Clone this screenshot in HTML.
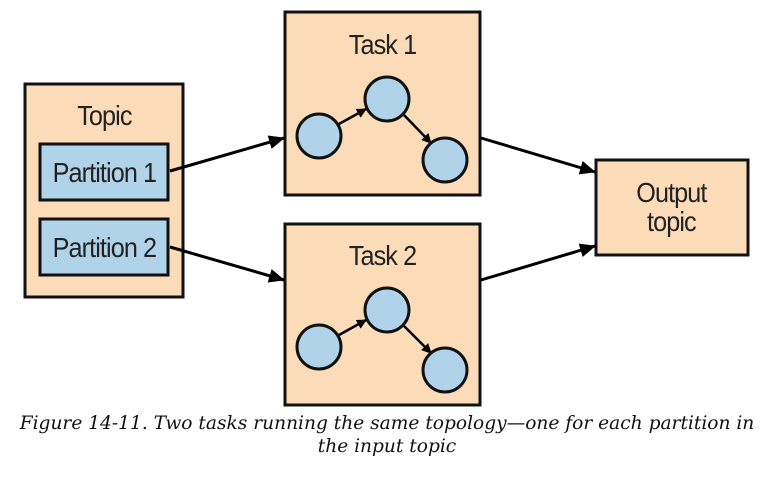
<!DOCTYPE html>
<html><head><style>
body{margin:0;background:#fff;width:767px;height:477px;overflow:hidden}
.cap{position:absolute;left:0;width:774px;text-align:center;font-family:"DejaVu Serif","Liberation Serif",serif;font-style:italic;font-size:18.6px;line-height:23px;top:412px;color:#111;white-space:nowrap}
</style></head><body>
<svg width="767" height="477" style="position:absolute;left:0;top:0" font-family="Liberation Sans, sans-serif">
<defs><marker id="a" markerWidth="16" markerHeight="14" refX="15" refY="7" orient="auto" markerUnits="userSpaceOnUse" viewBox="0 0 16 14"><path d="M0,0 L16,7 L0,14z" fill="#000"/></marker>
<marker id="s" markerWidth="10" markerHeight="10" refX="9" refY="5" orient="auto" markerUnits="userSpaceOnUse" viewBox="0 0 10 10"><path d="M0,0 L10,5 L0,10z" fill="#000"/></marker></defs>
<g stroke="#111" stroke-width="3" fill="#fcdcb8">
<rect x="25" y="84" width="158" height="213"/>
<rect x="285" y="12" width="195" height="183"/>
<rect x="285" y="224" width="195" height="181"/>
<rect x="596" y="160" width="152" height="95"/>
<rect x="40" y="144" width="128" height="56" fill="#b1d3ea"/>
<rect x="40" y="219" width="128" height="56" fill="#b1d3ea"/>
</g>
<g stroke="#000" stroke-width="3" fill="none" marker-end="url(#a)">
<line x1="170" y1="171" x2="284" y2="138"/>
<line x1="170" y1="247" x2="284" y2="280"/>
<line x1="481" y1="138" x2="595" y2="172"/>
<line x1="481" y1="280" x2="595" y2="246"/>
</g>
<g stroke="#000" stroke-width="2.5" fill="none" marker-end="url(#s)">
<line x1="339" y1="124" x2="366" y2="109"/>
<line x1="404" y1="115" x2="431" y2="143"/>
<line x1="339" y1="335" x2="366" y2="320"/>
<line x1="404" y1="326" x2="431" y2="353"/>
</g>
<g stroke="#111" stroke-width="3" fill="#b1d3ea">
<circle cx="319" cy="136" r="22"/><circle cx="387" cy="99" r="22"/><circle cx="445" cy="160" r="22"/>
<circle cx="319" cy="347" r="22"/><circle cx="387" cy="310" r="22"/><circle cx="445" cy="370" r="22"/>
</g>
<g font-size="28" fill="#222" text-anchor="middle" style="letter-spacing:-1px" transform="scale(0.9,1)">
<text x="116" y="125">Topic</text>
<text x="116" y="182">Partition 1</text>
<text x="116" y="257">Partition 2</text>
<text x="425" y="54">Task 1</text>
<text x="425" y="265">Task 2</text>
<text x="746" y="202">Output</text>
<text x="746" y="231">topic</text>
</g>
</svg>
<div class="cap">Figure 14-11. Two tasks running the same topology—one for each partition in<br>the input topic</div>
</body></html>
